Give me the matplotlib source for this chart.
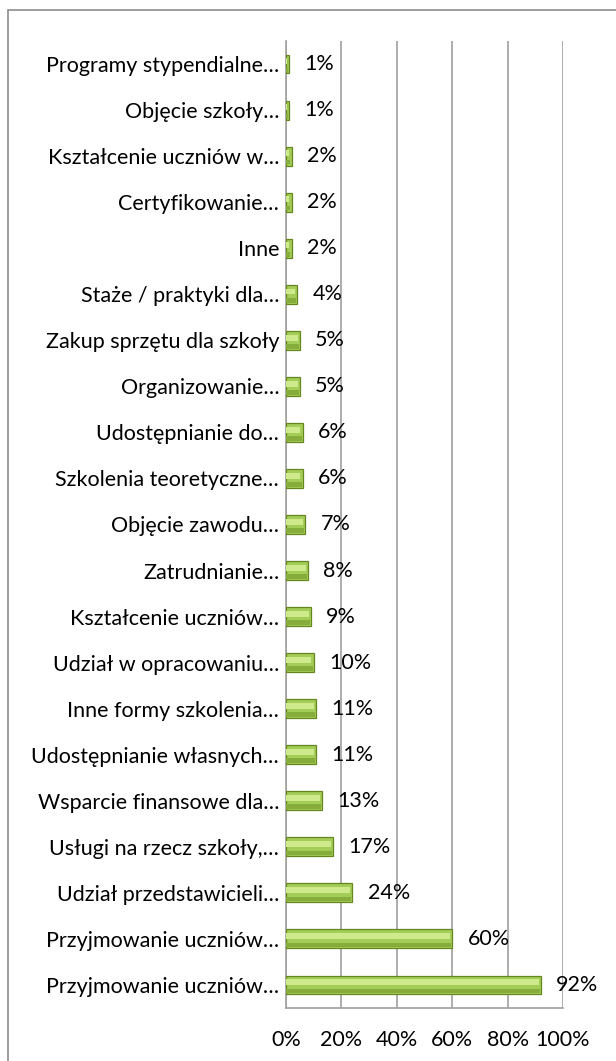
import matplotlib.pyplot as plt
from matplotlib.patches import Rectangle

# dane (od góry do dołu)
categories = [
    'Programy stypendialne…', 'Objęcie szkoły…', 'Kształcenie uczniów w…',
    'Certyfikowanie…', 'Inne', 'Staże / praktyki dla…',
    'Zakup sprzętu dla szkoły', 'Organizowanie…', 'Udostępnianie do…',
    'Szkolenia teoretyczne…', 'Objęcie zawodu…', 'Zatrudnianie…',
    'Kształcenie uczniów…', 'Udział w opracowaniu…', 'Inne formy szkolenia…',
    'Udostępnianie własnych…', 'Wsparcie finansowe dla…',
    'Usługi na rzecz szkoły,…', 'Udział przedstawicieli…',
    'Przyjmowanie uczniów…', 'Przyjmowanie uczniów…',
]
values = [1, 1, 2, 2, 2, 4, 5, 5, 6, 6, 7, 8, 9, 10, 11, 11, 13, 17, 24, 60, 92]
xticks = [0, 20, 40, 60, 80, 100]

plt.rcParams['font.family'] = ['Lato', 'DejaVu Sans']
FS = 15.5

fig = plt.figure(figsize=(6.16, 10.61), dpi=100)
# ramka wykresu
fig.patches.append(Rectangle((8 / 616, -0.02), 1.0, 1 - 10 / 1061 + 0.02,
                             transform=fig.transFigure, fill=False,
                             edgecolor='#8c8c8c', linewidth=1.2))

ax = fig.add_axes([286 / 616, 1 - 1008 / 1061, 277 / 616, (1008 - 41) / 1061])

y = list(range(len(categories)))
# słupki z efektem wypukłości
ax.barh(y, values, height=0.41, color='#a4cd58', edgecolor='#66871f', linewidth=0.9, zorder=3)
ax.barh([yi - 0.06 for yi in y], [max(v - 0.8, 0) for v in values], height=0.13,
        color='#cfe98d', linewidth=0, zorder=4)
ax.barh([yi + 0.13 for yi in y], [max(v - 0.4, 0) for v in values], height=0.1,
        color='#86ac3c', linewidth=0, zorder=4)

for yi, v in zip(y, values):
    ax.text(v + 5.5, yi, f'{v}%', va='center', ha='left', fontsize=FS, color='black', zorder=5)

ax.set_xlim(0, 100)
ax.set_ylim(len(categories) - 0.5, -0.5)
ax.set_xticks(xticks)
ax.set_xticklabels([f'{t}%' for t in xticks], fontsize=FS)
ax.set_yticks(y)
ax.set_yticklabels(categories, fontsize=FS)
ax.tick_params(length=0, pad=5)
ax.tick_params(axis='x', pad=16)
ax.grid(axis='x', color='#a0a0a0', linewidth=1.2, zorder=0)
for s in ['top', 'right']:
    ax.spines[s].set_visible(False)
ax.spines['left'].set_color('#a0a0a0')
ax.spines['left'].set_linewidth(1.2)
ax.spines['bottom'].set_color('#a0a0a0')
ax.spines['bottom'].set_linewidth(1.2)

fig.savefig('out.png', dpi=100)
